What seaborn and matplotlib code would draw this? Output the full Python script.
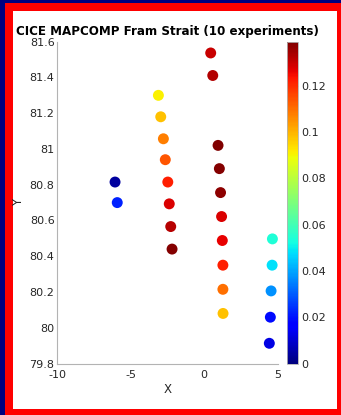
import numpy as np
import pandas as pd
import matplotlib
matplotlib.use("Agg")
import matplotlib.pyplot as plt
import seaborn as sns
from matplotlib.patches import Rectangle
from matplotlib.ticker import FuncFormatter
from matplotlib.colors import Normalize
from matplotlib.cm import ScalarMappable

# ---- data ----
lon = [-6.07, -5.92,
       -3.12, -2.96, -2.78, -2.65, -2.48, -2.38, -2.28, -2.19,
       0.44, 0.58,
       0.94, 1.03, 1.11, 1.18, 1.23, 1.27, 1.27, 1.28,
       4.64, 4.62, 4.55, 4.50, 4.43]
lat = [80.815, 80.70,
       81.30, 81.18, 81.057, 80.94, 80.815, 80.693, 80.566, 80.44,
       81.537, 81.411,
       81.02, 80.89, 80.756, 80.622, 80.488, 80.35, 80.215, 80.08,
       80.497, 80.35, 80.206, 80.059, 79.913]
value = [0.004, 0.022,
         0.091, 0.098, 0.108, 0.114, 0.122, 0.128, 0.132, 0.138,
         0.130, 0.133,
         0.139, 0.138, 0.137, 0.128, 0.126, 0.122, 0.110, 0.098,
         0.054, 0.048, 0.037, 0.019, 0.012]
title = "CICE MAPCOMP Fram Strait (10 experiments)"
xticks = [-10, -5, 0, 5]
yticks = [79.8, 80, 80.2, 80.4, 80.6, 80.8, 81, 81.2, 81.4, 81.6]
cticks = [0, 0.02, 0.04, 0.06, 0.08, 0.1, 0.12]
vmin, vmax = 0.0, 0.139

df = pd.DataFrame({"X": lon, "Y": lat, "v": value})
jet = matplotlib.colormaps["jet"]

sns.set_theme(style="white")
plt.rcParams["font.family"] = ["DejaVu Sans"]

W, H = 341, 415
fig = plt.figure(figsize=(W / 100, H / 100), dpi=100)
fig.patch.set_facecolor("white")

# frame: navy outer left/top, red border
fig.patches.append(Rectangle((0, 0), 1, 1, transform=fig.transFigure,
                             facecolor="#ff0000", edgecolor="none", zorder=-10))
fig.patches.append(Rectangle((0, 0), 5 / W, 1, transform=fig.transFigure,
                             facecolor="#000080", edgecolor="none", zorder=-9))
fig.patches.append(Rectangle((0, 1 - 3.3 / H), 1, 3.3 / H, transform=fig.transFigure,
                             facecolor="#000080", edgecolor="none", zorder=-9))
fig.patches.append(Rectangle((12.7 / W, 6 / H), (337 - 12.7) / W, (409 - 6 - 5) / H,
                             transform=fig.transFigure,
                             facecolor="white", edgecolor="none", zorder=-8))

ax = fig.add_axes([57.3 / W, (H - 363.5) / H, 220.4 / W, (363.5 - 41.7) / H])
ax.set_facecolor("none")
cax = fig.add_axes([287.3 / W, (H - 363.5) / H, 11 / W, (363.5 - 41.7) / H])

sns.scatterplot(data=df, x="X", y="Y", hue="v", palette=jet,
                hue_norm=Normalize(vmin, vmax), s=62, edgecolor="none",
                legend=False, ax=ax)

ax.set_xlim(-10, 5)
ax.set_ylim(79.8, 81.6)
ax.set_xticks(xticks)
ax.set_yticks(yticks)
fmt = FuncFormatter(lambda v, p: f"{v:g}")
ax.xaxis.set_major_formatter(fmt)
ax.yaxis.set_major_formatter(fmt)

tc = "#262626"
sc = "#b3b3b3"
for s in ["top", "right"]:
    ax.spines[s].set_visible(False)
for s in ["left", "bottom"]:
    ax.spines[s].set_color(sc)
    ax.spines[s].set_linewidth(0.8)
ax.tick_params(direction="in", length=3, width=0.6, color=sc,
               labelsize=8, labelcolor=tc)
ax.tick_params(axis="x", pad=4.5)
ax.tick_params(axis="y", pad=2)
ax.set_xlabel("X", fontsize=8.5, color=tc, labelpad=2)
ax.set_ylabel("Y", fontsize=8.5, color=tc, labelpad=3)
ax.set_title(title, fontsize=8.6, fontweight="bold", color="black", pad=5)

sm = ScalarMappable(norm=Normalize(vmin, vmax), cmap=jet)
cb = fig.colorbar(sm, cax=cax)
cb.set_ticks(cticks)
cb.ax.yaxis.set_major_formatter(fmt)
cb.outline.set_edgecolor(sc)
cb.outline.set_linewidth(0.6)
cb.ax.tick_params(direction="in", length=2, width=0.5, color=sc,
                  labelsize=8, labelcolor=tc, pad=2)

fig.savefig("out.png", dpi=100)
